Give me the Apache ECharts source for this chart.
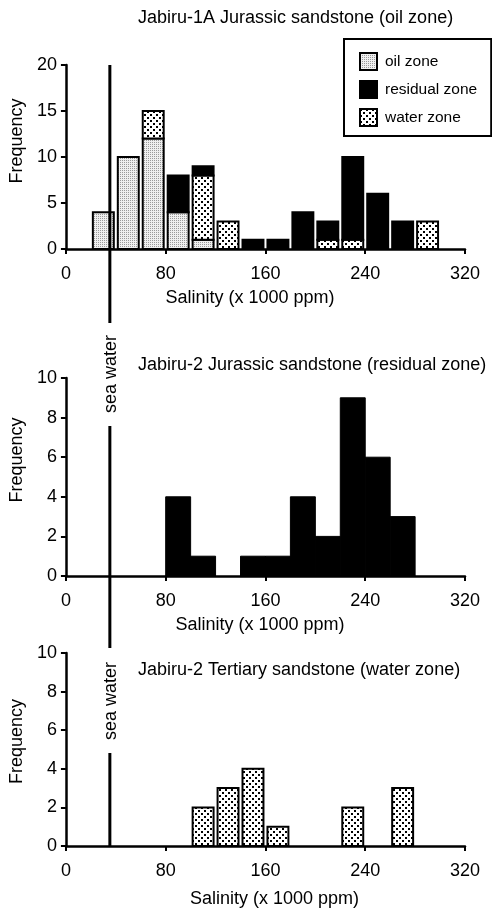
<!DOCTYPE html>
<html>
<head>
<meta charset="utf-8">
<script src="https://cdn.jsdelivr.net/npm/echarts@6/dist/echarts.min.js"></script>
<style>
html, body { margin: 0; padding: 0; background: #fff; }
#main { width: 492px; height: 910px; }
</style>
</head>
<body>
<div id="main"></div>
<script>
// lower edge of each salinity bin (x 1000 ppm), bins are 20 wide
var binStart = [0, 20, 40, 60, 80, 100, 120, 140, 160, 180, 200, 220, 240, 260, 280, 300];
var binWidth = 20;
// Jabiru-1A Jurassic sandstone, stacked oil / water / residual
var oil1A      = [0, 4, 10, 12, 4, 1, 0, 0, 0, 0, 0, 0, 0, 0, 0, 0];
var water1A    = [0, 0, 0, 3, 0, 7, 3, 0, 0, 0, 1, 1, 0, 0, 3, 0];
var residual1A = [0, 0, 0, 0, 4, 1, 0, 1, 1, 4, 2, 9, 6, 3, 0, 0];
// Jabiru-2 Jurassic sandstone (residual zone)
var residual2  = [0, 0, 0, 0, 4, 1, 0, 1, 1, 4, 2, 9, 6, 3, 0, 0];
// Jabiru-2 Tertiary sandstone (water zone)
var water2T    = [0, 0, 0, 0, 0, 2, 3, 4, 1, 0, 0, 2, 0, 3, 0, 0];
var seaWater = 38;
var titles = [
    'Jabiru-1A Jurassic sandstone (oil zone)',
    'Jabiru-2 Jurassic sandstone (residual zone)',
    'Jabiru-2 Tertiary sandstone (water zone)'
];

var FONT = '"Liberation Sans", Arial, Helvetica, sans-serif';

// fill patterns
function makePattern(size, bg, dots, dotColor, dotSize) {
    var c = document.createElement('canvas');
    c.width = size; c.height = size;
    var ctx = c.getContext('2d');
    ctx.fillStyle = bg;
    ctx.fillRect(0, 0, size, size);
    ctx.fillStyle = dotColor;
    dots.forEach(function (d) { ctx.fillRect(d[0], d[1], dotSize, dotSize); });
    return { image: c, repeat: 'repeat' };
}
var oilFill = makePattern(2, '#efefef', [[0, 0]], '#9a9a9a', 1);
var waterFill = makePattern(6, '#ffffff', [[0, 0], [3, 3]], '#000000', 2);

function add(a, b) { return a.map(function (v, i) { return v + b[i]; }); }
var zeros = binStart.map(function () { return 0; });

// [x0, x1, yBottom, yTop] for every non empty bin
function segs(vals, base) {
    var out = [];
    for (var i = 0; i < vals.length; i++) {
        if (vals[i] > 0) out.push([binStart[i], binStart[i] + binWidth, base[i], base[i] + vals[i]]);
    }
    return out;
}

function barRenderer(fill, inset, lw) {
    return function (params, api) {
        var p0 = api.coord([api.value(0), api.value(2)]);
        var p1 = api.coord([api.value(1), api.value(3)]);
        return {
            type: 'rect',
            shape: { x: p0[0] + inset, y: p1[1], width: p1[0] - p0[0] - 2 * inset, height: p0[1] - p1[1] },
            style: { fill: fill, stroke: '#000', lineWidth: lw }
        };
    };
}

function histSeries(name, idx, data, fill, inset, lw) {
    return {
        type: 'custom', name: name, xAxisIndex: idx, yAxisIndex: idx,
        renderItem: barRenderer(fill, inset, lw),
        encode: { x: [0, 1], y: [2, 3] },
        itemStyle: { color: fill, borderColor: '#000', borderWidth: 2 },
        data: data, silent: true, z: 3
    };
}

function xAxis(idx, nameGap, namePad) {
    return {
        type: 'value', gridIndex: idx, min: 0, max: 320, interval: 80,
        name: 'Salinity (x 1000 ppm)', nameLocation: 'middle', nameGap: nameGap,
        nameTextStyle: { fontFamily: FONT, fontSize: 18, color: '#000', padding: namePad },
        axisLine: { onZero: false, lineStyle: { color: '#000', width: 2.5 } },
        axisTick: { length: 5, lineStyle: { color: '#000', width: 2 } },
        axisLabel: { fontFamily: FONT, fontSize: 18, color: '#000', margin: 16 },
        splitLine: { show: false }
    };
}

function yAxis(idx, max, interval, namePad) {
    return {
        type: 'value', gridIndex: idx, min: 0, max: max, interval: interval,
        name: 'Frequency', nameLocation: 'middle', nameGap: 37,
        nameTextStyle: { fontFamily: FONT, fontSize: 18, color: '#000', padding: namePad },
        axisLine: { show: true, lineStyle: { color: '#000', width: 2.5 } },
        axisTick: { show: true, length: 5, lineStyle: { color: '#000', width: 2 } },
        axisLabel: { fontFamily: FONT, fontSize: 18, color: '#000', margin: 9 },
        splitLine: { show: false }
    };
}

var chart = echarts.init(document.getElementById('main'));
chart.setOption({
    animation: false,
    backgroundColor: '#fff',
    title: [
        { text: titles[0], left: 138, top: 9, padding: 0, textStyle: { fontFamily: FONT, fontSize: 18, fontWeight: 'normal', color: '#000' } },
        { text: titles[1], left: 138, top: 356, padding: 0, textStyle: { fontFamily: FONT, fontSize: 18, fontWeight: 'normal', color: '#000' } },
        { text: titles[2], left: 138, top: 661, padding: 0, textStyle: { fontFamily: FONT, fontSize: 18, fontWeight: 'normal', color: '#000' } }
    ],
    legend: {
        data: ['oil zone', 'residual zone', 'water zone'],
        orient: 'vertical', left: 344, top: 39,
        padding: [13, 14, 9, 15],
        itemWidth: 17, itemHeight: 17, itemGap: 9,
        icon: 'rect', selectedMode: false,
        borderColor: '#000', borderWidth: 2,
        itemStyle: { borderColor: '#000', borderWidth: 2 },
        textStyle: { fontFamily: FONT, fontSize: 15.5, color: '#000', padding: [0, 0, 0, 3] }
    },
    grid: [
        { left: 62, top: 65, width: 403, height: 184 },
        { left: 62, top: 378, width: 403, height: 198 },
        { left: 62, top: 653, width: 403, height: 193 },
        { left: 62, top: 65, width: 403, height: 781 }
    ],
    xAxis: [
        xAxis(0, 40, [0, 31, 0, 0]),
        xAxis(1, 40, [0, 11, 0, 0]),
        xAxis(2, 44, [0, 0, 0, 18]),
        { type: 'value', gridIndex: 3, min: 0, max: 320, show: false }
    ],
    yAxis: [
        yAxis(0, 20, 5, [0, 0, 0, 32]),
        yAxis(1, 10, 2, [0, 0, 0, 34]),
        yAxis(2, 10, 2, [0, 0, 0, 16]),
        { type: 'value', gridIndex: 3, min: 0, max: 1, show: false }
    ],
    series: [
        histSeries('oil zone', 0, segs(oil1A, zeros), oilFill, 2, 2),
        histSeries('water zone', 0, segs(water1A, oil1A), waterFill, 2, 2),
        histSeries('residual zone', 0, segs(residual1A, add(oil1A, water1A)), '#000', 2, 2),
        histSeries('Jabiru-2 Jurassic', 1, segs(residual2, zeros), '#000', 0, 1),
        histSeries('Jabiru-2 Tertiary', 2, segs(water2T, zeros), waterFill, 2, 2),
        {
            type: 'line', name: 'sea water', xAxisIndex: 3, yAxisIndex: 3,
            data: [[seaWater, 0], [seaWater, 1]],
            symbol: 'none', silent: true, z: 5,
            lineStyle: { color: '#000', width: 3 }
        }
    ],
    graphic: [
        { type: 'rect', z: 100, shape: { x: 103, y: 323, width: 16, height: 103 }, style: { fill: '#fff' } },
        { type: 'text', z: 101, x: 111, y: 374, rotation: Math.PI / 2,
          style: { text: 'sea water', font: '18px ' + FONT, fill: '#000', align: 'center', verticalAlign: 'middle' } },
        { type: 'rect', z: 100, shape: { x: 103, y: 648, width: 16, height: 105 }, style: { fill: '#fff' } },
        { type: 'text', z: 101, x: 111, y: 701, rotation: Math.PI / 2,
          style: { text: 'sea water', font: '18px ' + FONT, fill: '#000', align: 'center', verticalAlign: 'middle' } }
    ]
});
</script>
</body>
</html>
